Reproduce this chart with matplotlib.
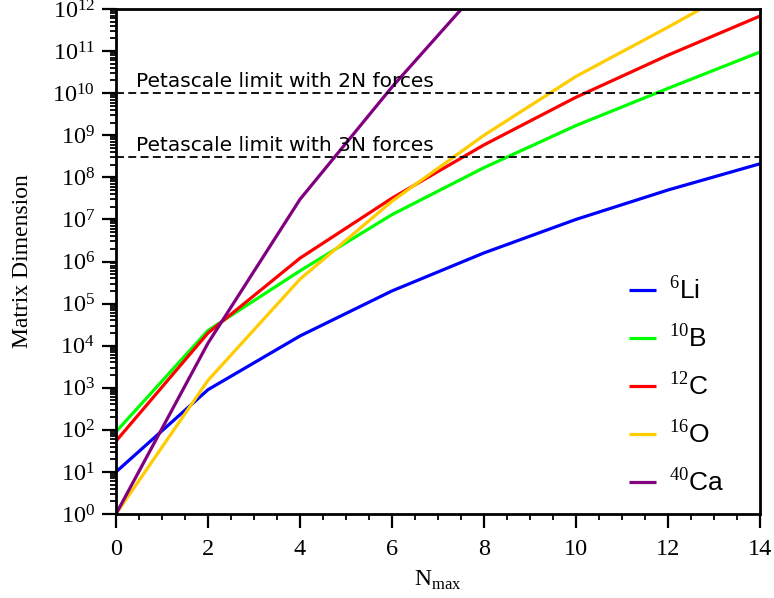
import matplotlib
matplotlib.use("Agg")
import matplotlib.pyplot as plt
from matplotlib.ticker import MultipleLocator, LogLocator, NullFormatter

nmax = [0, 2, 4, 6, 8, 10, 12, 14]
li6 = [10, 900, 1.7e4, 2.0e5, 1.6e6, 1.0e7, 5.0e7, 2.1e8]
b10 = [90, 2.3e4, 6.0e5, 1.3e7, 1.7e8, 1.7e9, 1.3e10, 9.5e10]
c12 = [54, 2.0e4, 1.2e6, 3.2e7, 5.9e8, 8.0e9, 8.0e10, 6.8e11]
o16 = [1, 1.5e3, 3.8e5, 2.7e7, 1.0e9, 2.5e10, 3.7e11, 6.0e12]
ca40 = [1, 1.15e4, 3.0e7, 1.4e10, 4.0e12]
ca40_n = [0, 2, 4, 6, 8]

labels = [r"$^{6}$Li", r"$^{10}$B", r"$^{12}$C", r"$^{16}$O", r"$^{40}$Ca"]
colors = ["#0000ff", "#00ff00", "#ff0000", "#ffcc00", "#800080"]

limits = [1e10, 3e8]
limit_texts = ["Petascale limit with 2N forces", "Petascale limit with 3N forces"]

plt.rcParams["font.family"] = ["Liberation Serif", "DejaVu Serif"]
plt.rcParams["mathtext.fontset"] = "custom"
plt.rcParams["mathtext.rm"] = "Liberation Serif"

fig = plt.figure(figsize=(7.74, 5.98), dpi=100)
ax = fig.add_axes([116/774, 84/598, 644/774, 505/598])

series = [(nmax, li6), (nmax, b10), (nmax, c12), (nmax, o16), (ca40_n, ca40)]
handles = []
for (xs, ys), lab, col in zip(series, labels, colors):
    h, = ax.plot(xs, ys, color=col, lw=2.3, label=lab, solid_capstyle="butt")
    handles.append(h)

for yv, txt in zip(limits, limit_texts):
    ax.axhline(yv, color="black", lw=1.3, dashes=(4.4, 2.4))
    ax.text(0.43, yv * 10**0.14, txt, family="DejaVu Sans", fontsize=14.5,
            ha="left", va="baseline")

ax.set_yscale("log")
ax.set_xlim(0, 14)
ax.set_ylim(1, 1e12)
ax.xaxis.set_major_locator(MultipleLocator(2))
ax.xaxis.set_minor_locator(MultipleLocator(0.5))
ax.yaxis.set_major_locator(LogLocator(base=10, numticks=20))
ax.yaxis.set_minor_locator(LogLocator(base=10, subs=range(2, 10), numticks=200))
ax.yaxis.set_minor_formatter(NullFormatter())

ax.tick_params(which="major", direction="out", length=10, width=1.6, labelsize=17.5, pad=5)
ax.tick_params(axis="x", which="major", pad=8)
ax.tick_params(which="minor", direction="out", length=4.5, width=1.3)
ax.tick_params(top=False, right=False)
for s in ax.spines.values():
    s.set_linewidth(2)

ax.set_ylabel("Matrix Dimension", fontsize=17, labelpad=14)
ax.set_xlabel(r"N$_{\mathrm{max}}$", fontsize=17, labelpad=6)

leg = ax.legend(handles=handles, loc="upper left", bbox_to_anchor=(0.76, 0.52),
                frameon=False, prop={"family": "Liberation Sans", "size": 19},
                handlelength=1.0, handletextpad=0.5, labelspacing=0.74)
for t in leg.get_texts():
    t.set_fontfamily(["Liberation Sans", "DejaVu Sans"])

fig.savefig("out.png", dpi=100)
